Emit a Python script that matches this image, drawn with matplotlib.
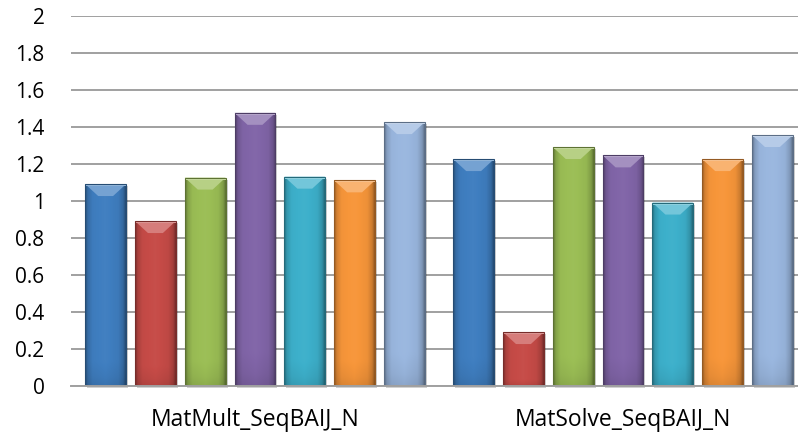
import numpy as np
import matplotlib.pyplot as plt
from matplotlib.colors import to_rgb
from matplotlib.patches import Polygon, Rectangle

plt.rcParams['font.family'] = ['Open Sans', 'DejaVu Sans']

groups = ['MatMult_SeqBAIJ_N', 'MatSolve_SeqBAIJ_N']
blue = [1.09, 1.225]
red = [0.89, 0.29]
green = [1.125, 1.29]
purple = [1.475, 1.245]
cyan = [1.13, 0.99]
orange = [1.11, 1.225]
light_blue = [1.425, 1.355]
series = [blue, red, green, purple, cyan, orange, light_blue]
colors = ['#3F7EC0', '#C64B47', '#9BBE55', '#8165A8', '#3DB0CB', '#F7963A', '#9AB7DF']
yticks = [0, 0.2, 0.4, 0.6, 0.8, 1, 1.2, 1.4, 1.6, 1.8, 2]
ytick_labels = ['0', '0.2', '0.4', '0.6', '0.8', '1', '1.2', '1.4', '1.6', '1.8', '2']

fig = plt.figure(figsize=(7.98, 4.38), dpi=100)
ax = fig.add_axes([71 / 798, 52.3 / 438, 1 - 71 / 798, 370 / 438])
xlim = (-0.5, 1.4755)
ax.set_xlim(*xlim)
ax.set_ylim(0, 2)

# data units per pixel, used for the bevel and shadow sizes
px_x = (xlim[1] - xlim[0]) / (798 - 71)
px_y = 2 / 370.0

step = 0.1353
width = 0.111
x = np.arange(len(groups))


def shade(c, f):
    c = np.array(to_rgb(c))
    if f >= 1:
        return c + (1 - c) * (f - 1)
    return c * f


def draw_bevel(rect, color):
    x0, y0 = rect.get_x(), rect.get_y()
    w, h = rect.get_width(), rect.get_height()
    # soft shadow
    ax.add_patch(Rectangle((x0 + 2 * px_x, y0 - 2 * px_y), w, h, color='black',
                           alpha=0.18, lw=0, zorder=1.5, clip_on=False))
    # horizontal shading, darker near the rounded sides
    t = np.linspace(0, 1, 60)
    prof = np.interp(t, [0, 0.06, 0.18, 0.5, 0.82, 0.94, 1],
                     [0.62, 0.85, 0.98, 1.02, 0.96, 0.82, 0.6])
    tv = np.linspace(0, 1, 80)
    vprof = np.interp(tv, [0, 0.04, 0.12, 1], [0.9, 0.95, 1.0, 1.0])
    img = np.array([[shade(color, a * b) for a in prof] for b in vprof])
    im = ax.imshow(img, extent=[x0, x0 + w, y0, y0 + h], origin='lower',
                   aspect='auto', interpolation='bilinear', zorder=2)
    im.set_clip_path(rect)
    bev_x = min(13 * px_x, w / 2)
    bev_y = min(12 * px_y, h / 2)
    top = y0 + h
    # top bevel
    ax.add_patch(Polygon([(x0, top), (x0 + w, top), (x0 + w - bev_x, top - bev_y),
                          (x0 + bev_x, top - bev_y)], closed=True,
                         facecolor=shade(color, 1.28), lw=0, zorder=2.2))
    ax.add_patch(Rectangle((x0, top - 2 * px_y), w, 2 * px_y,
                           facecolor=shade(color, 1.45), lw=0, zorder=2.3))
    # outline
    ax.add_patch(Rectangle((x0, y0), w, h, facecolor='none',
                           edgecolor=shade(color, 0.6), lw=0.8, zorder=2.4))


for i, (vals, c) in enumerate(zip(series, colors)):
    bars = ax.bar(x + (i - 3) * step, vals, width, color=c, lw=0, zorder=2)
    for b in bars:
        b.set_facecolor('none')
        draw_bevel(b, c)

ax.set_xlim(*xlim)
ax.set_ylim(0, 2)
ax.set_yticks(yticks)
ax.set_yticklabels(ytick_labels)
ax.set_xticks(x)
ax.set_xticklabels(groups)
ax.yaxis.grid(True, color='#A0A0A0', lw=1.4, zorder=0)
ax.set_axisbelow(True)
for s in ['top', 'right', 'left']:
    ax.spines[s].set_visible(False)
ax.spines['bottom'].set_color('#A0A0A0')
ax.spines['bottom'].set_linewidth(1.4)
ax.tick_params(axis='both', length=0, colors='black')
ax.tick_params(axis='y', pad=19, labelsize=15)
ax.tick_params(axis='x', pad=16, labelsize=16.5)

fig.savefig('out.png', dpi=100)
